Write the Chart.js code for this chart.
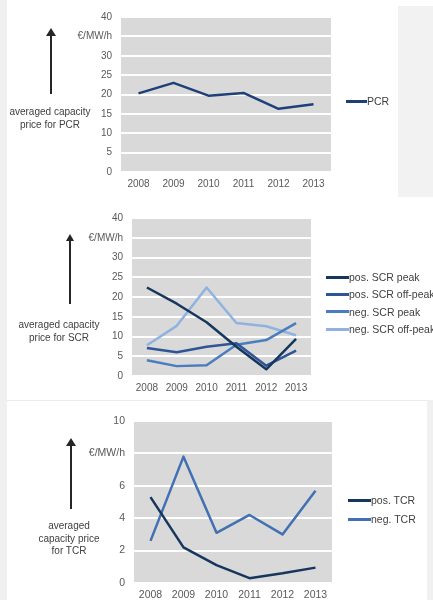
<!DOCTYPE html>
<html>
<head>
<meta charset="utf-8">
<script src="https://cdn.jsdelivr.net/npm/chart.js@4.4.1/dist/chart.umd.min.js"></script>
<style>
  html, body { margin: 0; padding: 0; background: #fff; }
  body { width: 433px; height: 600px; position: relative; overflow: hidden;
         font-family: "Liberation Sans", Arial, sans-serif; }
  .abs { position: absolute; }
  canvas.c { position: absolute; left: 0; }
  .note { position: absolute; text-align: center; color: #404040; font-size: 10px; line-height: 13px; }
  .shaft { position: absolute; width: 2px; background: #262626; }
  .head { position: absolute; width: 0; height: 0; border-left: 5px solid transparent;
          border-right: 5px solid transparent; border-bottom: 8px solid #262626; }
  .legend { position: absolute; font-size: 10.5px; color: #404040; }
  .legend .row { height: 17.3px; line-height: 17.3px; white-space: nowrap; position: relative; }
  .legend .swatch { display: inline-block; height: 3px; vertical-align: middle; margin-top: -2px; }
</style>
</head>
<body>
<div class="abs" style="left:0;top:0;width:7px;height:600px;background:#f0f0f0"></div>
<div class="abs" style="left:398px;top:6px;width:35px;height:191px;background:#f2f2f2"></div>
<div class="abs" style="left:7px;top:400px;width:420px;height:1px;background:#ebebeb"></div>
<div class="abs" style="left:427px;top:400px;width:6px;height:200px;background:#f0f0f0"></div>

<canvas id="c1" class="c" width="433" height="200" style="top:0"></canvas>
<canvas id="c2" class="c" width="433" height="200" style="top:200px"></canvas>
<canvas id="c3" class="c" width="433" height="210" style="top:400px"></canvas>

<!-- left annotations -->
<div class="head" style="left:46px;top:28px"></div>
<div class="shaft" style="left:50px;top:34px;height:60px"></div>
<div class="note" style="left:0;top:105px;width:100px">averaged capacity<br>price for PCR</div>

<div class="head" style="left:66px;top:234px;border-left-width:4px;border-right-width:4px;border-bottom-width:7px"></div>
<div class="shaft" style="left:69px;top:240px;height:64px"></div>
<div class="note" style="left:8px;top:318px;width:102px">averaged capacity<br>price for SCR</div>

<div class="head" style="left:66px;top:438px"></div>
<div class="shaft" style="left:70px;top:445px;height:64px"></div>
<div class="note" style="left:19px;top:520px;width:100px;line-height:12.5px">averaged<br>capacity price<br>for TCR</div>

<div id="lg1" class="legend" style="left:346px;top:93px"></div>
<div id="lg2" class="legend" style="left:326px;top:269px"></div>
<div id="lg3" class="legend" style="left:348px;top:491px;line-height:19px"></div>

<script>
const years = ['2008', '2009', '2010', '2011', '2012', '2013'];

const pcr = [20.3, 23.0, 19.7, 20.4, 16.3, 17.5];

const posScrPeak = [22.4, 18.3, 13.6, 7.4, 1.7, 9.4];
const posScrOffPeak = [7.1, 6.0, 7.4, 8.3, 2.6, 6.4];
const negScrPeak = [4.0, 2.5, 2.7, 7.9, 9.1, 13.4];
const negScrOffPeak = [7.8, 12.7, 22.4, 13.4, 12.6, 10.3];

const posTcr = [5.3, 2.2, 1.1, 0.3, 0.6, 0.95];
const negTcr = [2.6, 7.8, 3.1, 4.2, 3.0, 5.7];

const unit = '€/MW/h';

// grey plot background behind the white grid lines
const plotBg = {
  id: 'plotBg',
  beforeDraw(chart) {
    const { ctx, chartArea: a } = chart;
    ctx.save();
    ctx.fillStyle = '#d9d9d9';
    ctx.fillRect(a.left, a.top, a.right - a.left, a.bottom - a.top);
    ctx.restore();
  }
};

function line(label, data, color) {
  return {
    label, data,
    borderColor: color,
    backgroundColor: color,
    borderWidth: 2.5,
    pointRadius: 0,
    tension: 0,
    borderJoinStyle: 'round'
  };
}

function makeChart(id, datasets, max, step, unitAt, padding, fontSize) {
  return new Chart(document.getElementById(id), {
    type: 'line',
    data: { labels: years, datasets },
    plugins: [plotBg],
    options: {
      responsive: false,
      animation: false,
      layout: { padding },
      plugins: { legend: { display: false }, tooltip: { enabled: false } },
      scales: {
        x: {
          offset: true,
          grid: { display: false, drawTicks: false },
          border: { display: false },
          ticks: { color: '#595959', font: { family: 'Liberation Sans', size: fontSize }, padding: 6, maxRotation: 0 },
          afterFit: s => { s.height = 20; }
        },
        y: {
          min: 0, max,
          grid: { color: '#ffffff', lineWidth: 2, drawTicks: false },
          border: { display: false },
          ticks: {
            stepSize: step,
            padding: 9,
            color: '#595959',
            font: { family: 'Liberation Sans', size: fontSize },
            callback: v => (v === unitAt ? unit : v)
          },
          afterFit: s => { s.width = 50; }
        }
      }
    }
  });
}

function makeLegend(id, datasets) {
  const el = document.getElementById(id);
  datasets.forEach(d => {
    const row = document.createElement('div');
    row.className = 'row';
    if (el.style.lineHeight) { row.style.height = el.style.lineHeight; row.style.lineHeight = el.style.lineHeight; }
    const sw = document.createElement('span');
    sw.className = 'swatch';
    sw.style.width = (id === 'lg1' ? 21 : 23) + 'px';
    sw.style.background = d.borderColor;
    row.appendChild(sw);
    row.appendChild(document.createTextNode(d.label));
    el.appendChild(row);
  });
}

const ds1 = [line('PCR', pcr, '#1f3f7a')];
const ds2 = [
  line('pos. SCR peak', posScrPeak, '#17365d'),
  line('pos. SCR off-peak', posScrOffPeak, '#2f5597'),
  line('neg. SCR peak', negScrPeak, '#4a7dbf'),
  line('neg. SCR off-peak', negScrOffPeak, '#8fb2e0')
];
const ds3 = [
  line('pos. TCR', posTcr, '#17365d'),
  line('neg. TCR', negTcr, '#4170b3')
];

makeChart('c1', ds1, 40, 5, 35, { left: 71, right: 102, top: 17, bottom: 8 }, 10);
makeChart('c2', ds2, 40, 5, 35, { left: 82, right: 122, top: 18, bottom: 4 }, 10);
makeChart('c3', ds3, 10, 2, 8, { left: 84, right: 101, top: 21, bottom: 7 }, 10.5);

makeLegend('lg1', ds1);
makeLegend('lg2', ds2);
makeLegend('lg3', ds3);
</script>
</body>
</html>
